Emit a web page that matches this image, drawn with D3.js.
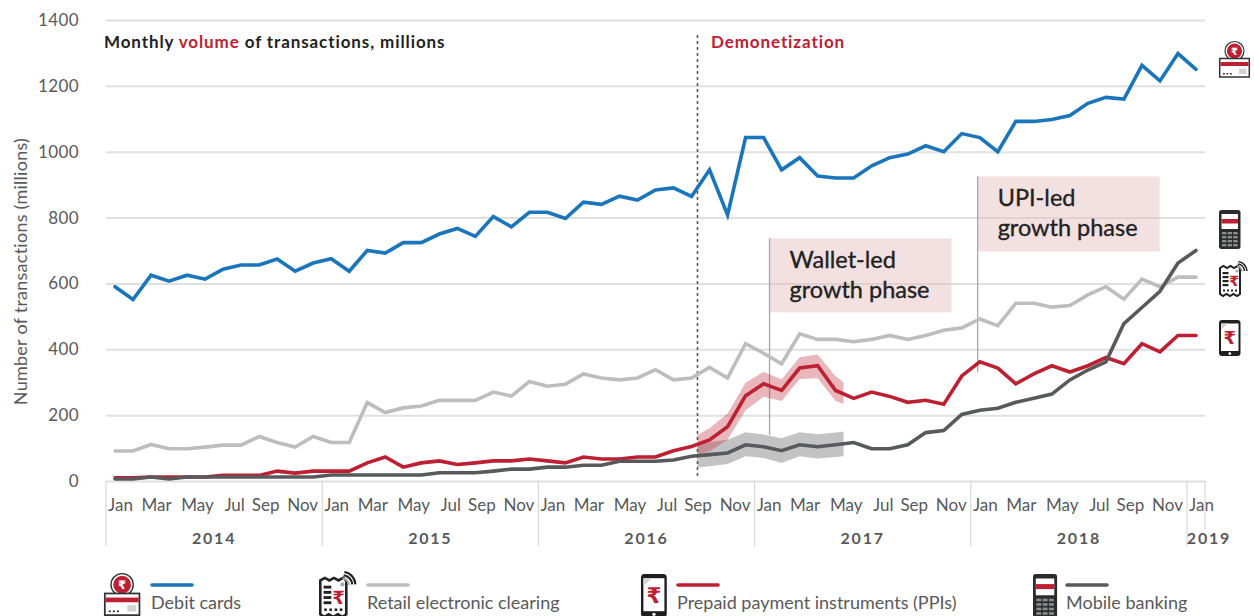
<!DOCTYPE html>
<html>
<head>
<meta charset="utf-8">
<script src="https://cdn.jsdelivr.net/npm/d3@7"></script>
<style>
  html, body { margin: 0; padding: 0; background: #fff; overflow: hidden; }
  text { font-family: Lato, "Open Sans", sans-serif; }
</style>
</head>
<body>
<script>
// Monthly values, Jan 2014 to Jan 2019
var debitCards = [590, 551, 625, 607, 625, 613, 643, 656, 656, 674, 637, 662,
  675, 637, 700, 692, 724, 724, 750, 767, 743, 803, 772, 816,
  816, 797, 847, 840, 865, 853, 884, 890, 864, 945, 808, 1043,
  1043, 945, 982, 926, 920, 920, 957, 982, 993, 1018, 1000, 1055,
  1043, 1000, 1092, 1092, 1098, 1110, 1147, 1165, 1160, 1262, 1215, 1298,
  1250];
var retailClearing = [91, 91, 111, 98, 98, 103, 109, 109, 135, 117, 103, 135,
  117, 117, 238, 208, 222, 228, 245, 245, 245, 270, 258, 302,
  288, 294, 325, 313, 307, 313, 338, 307, 313, 345, 313, 417,
  388, 356, 447, 430, 430, 423, 430, 442, 430, 442, 458, 465,
  492, 472, 540, 540, 528, 533, 565, 590, 552, 613, 590, 619,
  619];
var prepaid = [10, 10, 12, 12, 12, 12, 17, 17, 17, 30, 24, 30,
  30, 30, 55, 73, 42, 55, 61, 50, 55, 61, 61, 67,
  61, 55, 73, 67, 67, 73, 73, 92, 105, 125, 165, 259,
  295, 275, 343, 350, 275, 251, 270, 257, 239, 245, 233, 319,
  362, 343, 295, 325, 350, 331, 350, 375, 356, 417, 392, 442,
  442];
var mobileBanking = [6, 6, 12, 6, 12, 12, 12, 12, 12, 12, 12, 12,
  18, 18, 18, 18, 18, 18, 25, 25, 25, 30, 36, 36,
  42, 42, 48, 48, 60, 60, 60, 64, 75, 80, 85, 110,
  104, 92, 110, 104, 110, 117, 98, 98, 110, 147, 153, 202,
  215, 221, 239, 251, 264, 307, 337, 362, 478, 527, 576, 662,
  700];

// Shaded ranges around the two series
var bandMonths = [32.33, 33, 34, 35, 36, 37, 38, 39, 40, 40.44];
var prepaidHigh = [140, 160, 205, 298, 332, 308, 376, 384, 318, 300];
var prepaidLow = [80, 90, 125, 215, 256, 243, 310, 312, 243, 234];
var mobileHigh = [112, 118, 125, 148, 141, 130, 148, 142, 147, 150];
var mobileLow = [41, 45, 52, 75, 70, 55, 75, 68, 73, 75];

var monthNames = ["Jan", "Mar", "May", "Jul", "Sep", "Nov"];
var years = ["2014", "2015", "2016", "2017", "2018", "2019"];
var yTicks = [0, 200, 400, 600, 800, 1000, 1200, 1400];

var blue = "#1a75bb", lightGrey = "#bdbdbd", red = "#bd2032", darkGrey = "#58595b";
var textGrey = "#58595b";

var svg = d3.select("body").append("svg")
  .attr("width", 1254)
  .attr("height", 616);

var x = d3.scaleLinear().domain([-0.5, 60.5]).range([106, 1205]);
var y = d3.scaleLinear().domain([0, 1400]).range([481, 20]);

// Y axis, the gridlines are its ticks
var yAxis = svg.append("g")
  .attr("transform", "translate(106,0)")
  .call(d3.axisLeft(y).tickValues(yTicks).tickSize(0).tickPadding(27).tickFormat(d3.format("d")));
yAxis.select(".domain").remove();
yAxis.selectAll("text")
  .attr("fill", textGrey)
  .style("font-size", "17px")
  .style("letter-spacing", "0.4px");
yAxis.selectAll(".tick").append("line")
  .attr("x1", 0)
  .attr("x2", 1099)
  .attr("stroke", "#e0e0e0")
  .attr("stroke-width", 2);

svg.append("text")
  .attr("transform", "translate(27,271.5) rotate(-90)")
  .attr("text-anchor", "middle")
  .attr("fill", textGrey)
  .style("font-size", "18px")
  .style("letter-spacing", "0.25px")
  .text("Number of transactions (millions)");

// Month labels, every second month. The labels sit a little right of their points
var labelShift = { Jan: 5, Mar: 5, May: 10, Jul: 11, Sep: 6, Nov: 7 };
var monthTicks = d3.range(0, 61, 2);
var xAxis = svg.append("g")
  .attr("transform", "translate(0,481)")
  .call(d3.axisBottom(x).tickValues(monthTicks).tickSize(0).tickPadding(18).tickFormat(function(d) {
    return monthNames[(d % 12) / 2];
  }));
xAxis.select(".domain").remove();
xAxis.selectAll("text")
  .attr("dx", function(d) { return labelShift[monthNames[(d % 12) / 2]]; })
  .attr("fill", textGrey)
  .style("font-size", "17px");

// Year separators and labels
var yearStarts = d3.range(0, 61, 12);
svg.selectAll(".year-line")
  .data(yearStarts)
  .enter().append("line")
  .attr("class", "year-line")
  .attr("x1", function(d) { return x(d - 0.5); })
  .attr("x2", function(d) { return x(d - 0.5); })
  .attr("y1", 481)
  .attr("y2", 546)
  .attr("stroke", "#d8d8d8")
  .attr("stroke-width", 1.2);
svg.append("line")
  .attr("x1", x(60.5)).attr("x2", x(60.5))
  .attr("y1", 481).attr("y2", 530)
  .attr("stroke", "#d8d8d8")
  .attr("stroke-width", 1.2);

svg.selectAll(".year")
  .data(years)
  .enter().append("text")
  .attr("class", "year")
  .attr("x", function(d, i) { return i < 5 ? x(i * 12 + 5.5) : 1209; })
  .attr("y", 544)
  .attr("text-anchor", "middle")
  .attr("fill", textGrey)
  .style("font-size", "16px")
  .style("font-weight", 700)
  .style("letter-spacing", "1.8px")
  .text(function(d) { return d; });

// Phase annotations, drawn under the lines
function phase(month, top, bottom, lineEnd, lines) {
  svg.append("rect")
    .attr("x", x(month))
    .attr("y", y(top))
    .attr("width", 182)
    .attr("height", y(bottom) - y(top))
    .attr("fill", "#e3b4b6")
    .attr("opacity", 0.42);
  svg.append("line")
    .attr("x1", x(month)).attr("x2", x(month))
    .attr("y1", y(top)).attr("y2", y(lineEnd))
    .attr("stroke", "#a9a5a5")
    .attr("stroke-width", 1.3);
  svg.selectAll(null)
    .data(lines)
    .enter().append("text")
    .attr("x", x(month) + 20)
    .attr("y", function(d, i) { return y(top) + 30 + i * 30; })
    .attr("fill", "#222")
    .attr("stroke", "#222")
    .attr("stroke-width", 0.35)
    .style("font-size", "23.5px")
    .text(function(d) { return d; });
}
phase(36.33, 737, 512, 140, ["Wallet-led", "growth phase"]);
phase(47.88, 925, 697, 330, ["UPI-led", "growth phase"]);

// Demonetization marker
svg.append("line")
  .attr("x1", x(32.33)).attr("x2", x(32.33))
  .attr("y1", 35).attr("y2", 477)
  .attr("stroke", darkGrey)
  .attr("stroke-width", 1.6)
  .attr("stroke-dasharray", "3,3");

// Ranges
var band = d3.area()
  .x(function(d) { return x(d[0]); })
  .y0(function(d) { return y(d[1]); })
  .y1(function(d) { return y(d[2]); });
svg.append("path")
  .attr("d", band(d3.zip(bandMonths, mobileLow, mobileHigh)))
  .attr("fill", "#58595b")
  .attr("opacity", 0.36);
svg.append("path")
  .attr("d", band(d3.zip(bandMonths, prepaidLow, prepaidHigh)))
  .attr("fill", red)
  .attr("opacity", 0.33);

// Series lines
var line = d3.line()
  .x(function(d, i) { return x(i); })
  .y(function(d) { return y(d); });
function drawSeries(values, color) {
  svg.append("path")
    .attr("d", line(values))
    .attr("fill", "none")
    .attr("stroke", color)
    .attr("stroke-width", 3.6)
    .attr("stroke-linecap", "round")
    .attr("stroke-linejoin", "miter");
}
drawSeries(retailClearing, lightGrey);
drawSeries(debitCards, blue);
drawSeries(prepaid, red);
drawSeries(mobileBanking, darkGrey);

// Title
var title = svg.append("text")
  .attr("x", 104)
  .attr("y", 48)
  .attr("fill", "#222")
  .style("font-size", "17px")
  .style("font-weight", 700)
  .style("letter-spacing", "0.9px");
title.append("tspan").text("Monthly ");
title.append("tspan").attr("fill", red).text("volume");
title.append("tspan").text(" of transactions, millions");

svg.append("text")
  .attr("x", 711)
  .attr("y", 48)
  .attr("fill", red)
  .style("font-size", "17px")
  .style("font-weight", 700)
  .style("letter-spacing", "0.9px")
  .text("Demonetization");

// Icons, drawn in local coordinates and placed with a transform
function rupee(g, cx, cy, size, color) {
  g.append("text")
    .attr("x", cx)
    .attr("y", cy)
    .attr("text-anchor", "middle")
    .attr("dominant-baseline", "central")
    .attr("fill", color)
    .style("font-family", "'DejaVu Sans', sans-serif")
    .style("font-size", size + "px")
    .style("font-weight", 700)
    .text("\u20b9");
}

function cardIcon(px, py, s) {
  var g = svg.append("g").attr("transform", "translate(" + px + "," + py + ") scale(" + s + ")");
  g.append("circle").attr("cx", 15.5).attr("cy", 10).attr("r", 9.5)
    .attr("fill", "#fff").attr("stroke", "#333").attr("stroke-width", 1.2);
  g.append("circle").attr("cx", 15.5).attr("cy", 10).attr("r", 7.6).attr("fill", red);
  rupee(g, 15.5, 10, 10, "#fff");
  g.append("rect").attr("x", 0.7).attr("y", 17.5).attr("width", 29.6).attr("height", 18.5)
    .attr("fill", "#fff").attr("stroke", "#333").attr("stroke-width", 1.5);
  g.append("rect").attr("x", 1.4).attr("y", 21).attr("width", 28.2).attr("height", 4).attr("fill", red);
  g.append("rect").attr("x", 20).attr("y", 27.5).attr("width", 7.5).attr("height", 5.5).attr("fill", "#d1d3d4");
  [4, 7.5, 11].forEach(function(dx) {
    g.append("rect").attr("x", dx).attr("y", 32).attr("width", 1.8).attr("height", 1.5).attr("fill", "#333");
  });
}

function receiptIcon(px, py, s) {
  var g = svg.append("g").attr("transform", "translate(" + px + "," + py + ") scale(" + s + ")");
  g.append("path")
    .attr("d", "M1,5 L4.5,3 L8,5 L11.5,3 L15,5 L18.5,3 L21,5 L21,31 L18,33 L14.5,31 L11,33 L7.5,31 L4,33 L1,31 Z")
    .attr("fill", "#fff").attr("stroke", "#222").attr("stroke-width", 2);
  [9, 13, 17, 21].forEach(function(dy) {
    g.append("rect").attr("x", 3.5).attr("y", dy).attr("width", 6).attr("height", 2.2).attr("fill", "#222");
  });
  [4, 8, 12, 16].forEach(function(dx) {
    g.append("rect").attr("x", dx).attr("y", 26.5).attr("width", 2).attr("height", 2).attr("fill", "#222");
  });
  rupee(g, 15, 18, 14, red);
  g.append("circle").attr("cx", 18).attr("cy", 8).attr("r", 1.6).attr("fill", "#a7a9ac");
  g.append("path").attr("d", "M18,3.5 A5,5 0 0 1 23,8.5").attr("fill", "none").attr("stroke", "#a7a9ac").attr("stroke-width", 1.5);
  g.append("path").attr("d", "M19,1 A7.5,7.5 0 0 1 25.5,8").attr("fill", "none").attr("stroke", "#222").attr("stroke-width", 1.6);
  g.append("path").attr("d", "M19.5,-1.5 A10,10 0 0 1 28,8").attr("fill", "none").attr("stroke", "#222").attr("stroke-width", 1.6);
}

function smartphoneIcon(px, py, s) {
  var g = svg.append("g").attr("transform", "translate(" + px + "," + py + ") scale(" + s + ")");
  g.append("rect").attr("x", 0).attr("y", 0).attr("width", 21.5).attr("height", 36).attr("rx", 3).attr("fill", "#1f1f1f");
  g.append("rect").attr("x", 2).attr("y", 3.5).attr("width", 17.5).attr("height", 27.5).attr("fill", "#fff");
  g.append("path").attr("d", "M2,3.5 L9,3.5 L2,10 Z").attr("fill", "#d1d3d4");
  rupee(g, 10.8, 17.5, 18, red);
  g.append("circle").attr("cx", 10.8).attr("cy", 33.6).attr("r", 1.4).attr("fill", "#fff");
}

function featurePhoneIcon(px, py, s) {
  var g = svg.append("g").attr("transform", "translate(" + px + "," + py + ") scale(" + s + ")");
  g.append("rect").attr("x", 0).attr("y", 0).attr("width", 21.5).attr("height", 39).attr("rx", 2.5).attr("fill", "#2b2b2b");
  g.append("rect").attr("x", 2.5).attr("y", 4).attr("width", 16.5).attr("height", 15).attr("fill", "#fff");
  g.append("rect").attr("x", 2.5).attr("y", 9).attr("width", 16.5).attr("height", 4.5).attr("fill", red);
  d3.range(4).forEach(function(row) {
    d3.range(3).forEach(function(col) {
      g.append("rect")
        .attr("x", 3 + col * 5.6)
        .attr("y", 22 + row * 4)
        .attr("width", 4.4)
        .attr("height", 2.4)
        .attr("fill", "#8a8c8e");
    });
  });
}

cardIcon(1219, 41, 1);
featurePhoneIcon(1219, 210, 1);
receiptIcon(1219, 263, 1);
smartphoneIcon(1219, 320, 1);

cardIcon(104, 573, 1.17);
receiptIcon(319, 574, 1.3);
smartphoneIcon(641, 574, 1.2);
featurePhoneIcon(1033, 574, 1.12);

// Legend
var legendNames = ["Debit cards", "Retail electronic clearing", "Prepaid payment instruments (PPIs)", "Mobile banking"];
var legendColors = [blue, lightGrey, red, darkGrey];
var legendX = [151, 367, 677, 1066];

svg.selectAll(".legend-line")
  .data(legendNames)
  .enter().append("line")
  .attr("class", "legend-line")
  .attr("x1", function(d, i) { return legendX[i] + 1; })
  .attr("x2", function(d, i) { return legendX[i] + 41; })
  .attr("y1", 585)
  .attr("y2", 585)
  .attr("stroke", function(d, i) { return legendColors[i]; })
  .attr("stroke-width", 3.6)
  .attr("stroke-linecap", "round");

svg.selectAll(".legend-text")
  .data(legendNames)
  .enter().append("text")
  .attr("class", "legend-text")
  .attr("x", function(d, i) { return legendX[i]; })
  .attr("y", 609)
  .attr("fill", textGrey)
  .style("font-size", "18px")
  .text(function(d) { return d; });
</script>
</body>
</html>
